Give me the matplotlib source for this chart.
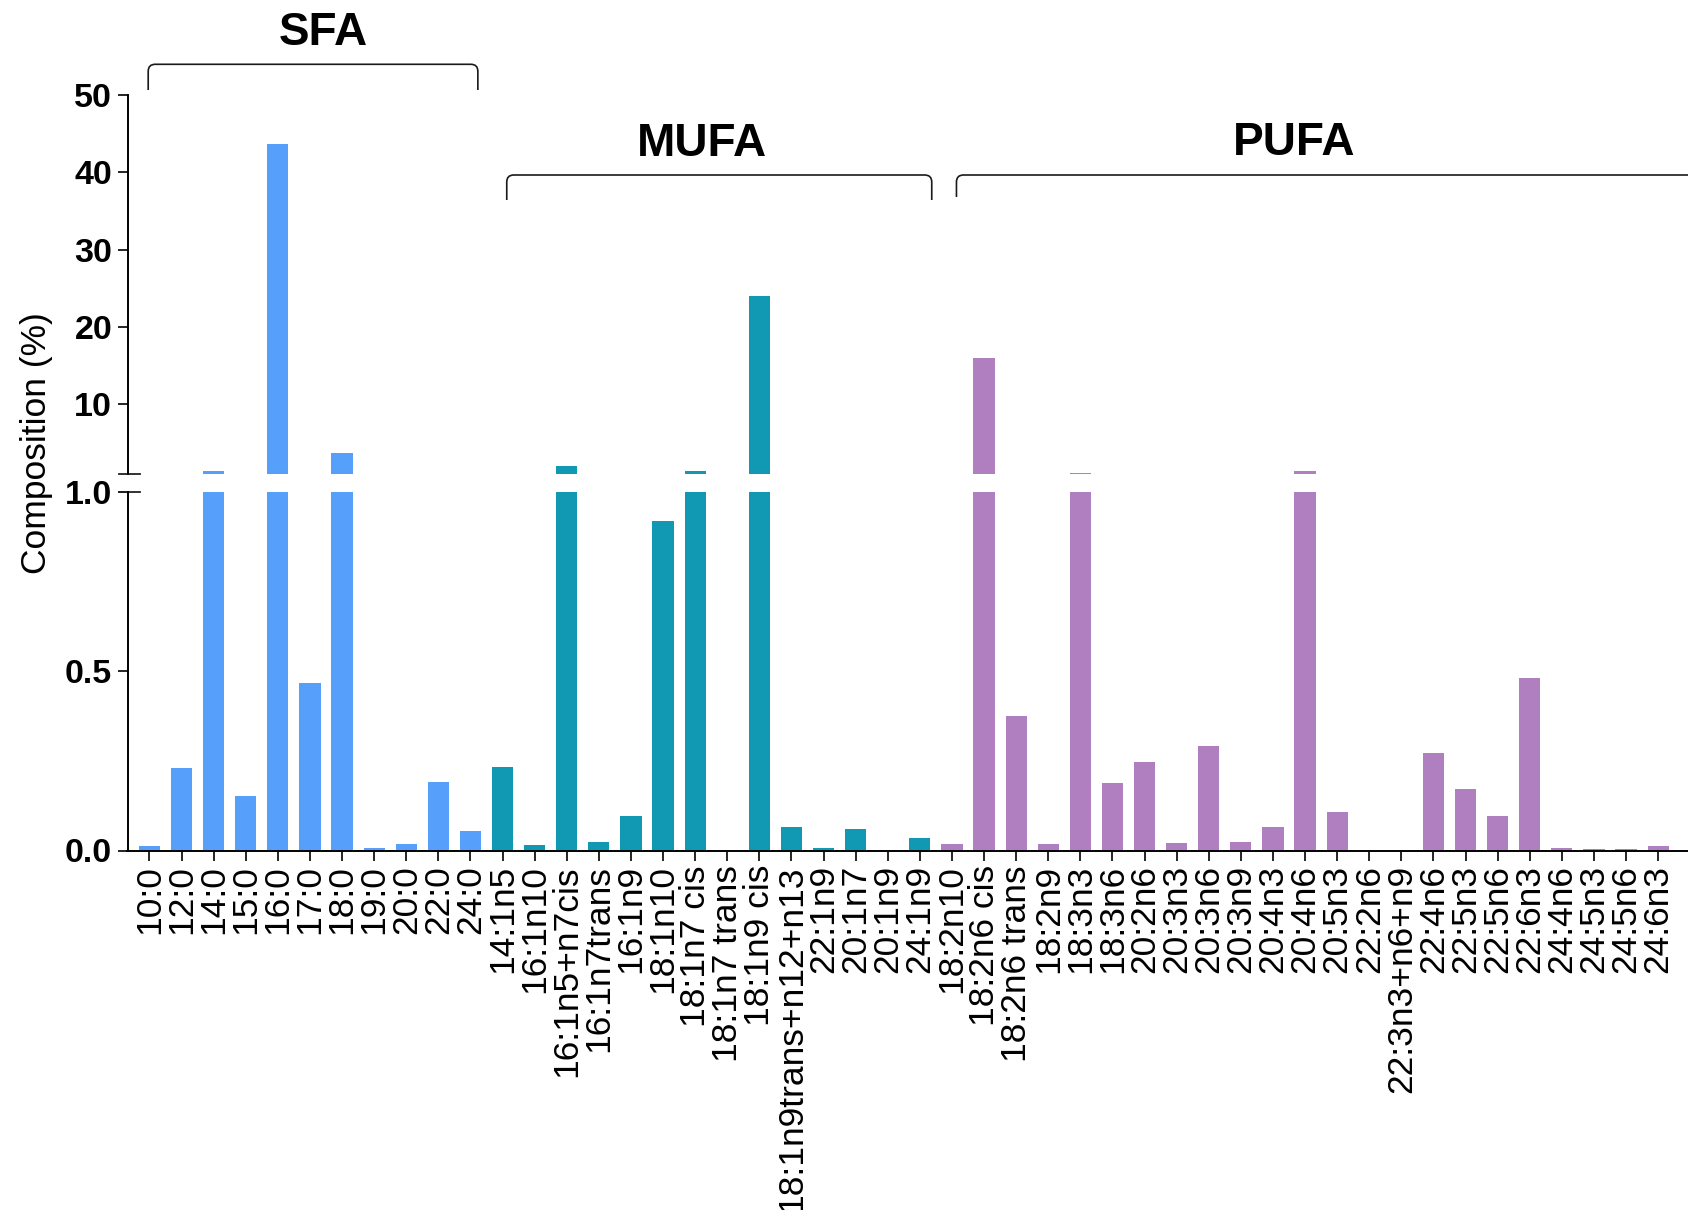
import matplotlib
matplotlib.use("Agg")
import matplotlib.pyplot as plt
from matplotlib.path import Path
from matplotlib.patches import PathPatch
from matplotlib.transforms import blended_transform_factory

plt.rcParams['font.family'] = ['Liberation Sans', 'DejaVu Sans']

# Fatty acid composition (%)
sfa_labels = ["10:0", "12:0", "14:0", "15:0", "16:0", "17:0", "18:0", "19:0",
              "20:0", "22:0", "24:0"]
sfa_values = [0.012, 0.230, 1.35, 0.153, 43.6, 0.466, 3.7, 0.006, 0.017,
              0.191, 0.055]

mufa_labels = ["14:1n5", "16:1n10", "16:1n5+n7cis", "16:1n7trans", "16:1n9",
               "18:1n10", "18:1n7 cis", "18:1n7 trans", "18:1n9 cis",
               "18:1n9trans+n12+n13", "22:1n9", "20:1n7", "20:1n9", "24:1n9"]
mufa_values = [0.233, 0.016, 2.0, 0.023, 0.095, 0.918, 1.45, 0.0, 24.0,
               0.065, 0.006, 0.060, 0.0, 0.034]

pufa_labels = ["18:2n10", "18:2n6 cis", "18:2n6 trans", "18:2n9", "18:3n3",
               "18:3n6", "20:2n6", "20:3n3", "20:3n6", "20:3n9", "20:4n3",
               "20:4n6", "20:5n3", "22:2n6", "22:3n3+n6+n9", "22:4n6",
               "22:5n3", "22:5n6", "22:6n3", "24:4n6", "24:5n3", "24:5n6",
               "24:6n3"]
pufa_values = [0.019, 16.0, 0.376, 0.018, 1.08, 0.189, 0.246, 0.022, 0.290,
               0.024, 0.065, 1.35, 0.107, 0.0, 0.0, 0.273, 0.171, 0.095,
               0.481, 0.007, 0.004, 0.004, 0.012]

group_names = ["SFA", "MUFA", "PUFA"]
group_colors = ["#569FFA", "#1199B4", "#B07FBF"]

labels = sfa_labels + mufa_labels + pufa_labels
values = sfa_values + mufa_values + pufa_values
colors = ([group_colors[0]] * len(sfa_labels) + [group_colors[1]] * len(mufa_labels)
          + [group_colors[2]] * len(pufa_labels))
x = list(range(len(labels)))

W, H = 1688, 1210
fig = plt.figure(figsize=(W / 100, H / 100), dpi=100)

x_left = 127.5 / W
lo_bottom, lo_top = 850.5, 491.7
hi_bottom, hi_top = 474.0, 94.7
ax_lo = fig.add_axes([x_left, 1 - lo_bottom / H, 1 - x_left, (lo_bottom - lo_top) / H])
ax_hi = fig.add_axes([x_left, 1 - hi_bottom / H, 1 - x_left, (hi_bottom - hi_top) / H])

xlim = (-0.685, 47.93)
for ax in (ax_lo, ax_hi):
    ax.bar(x, values, width=0.66, color=colors, linewidth=0)
    ax.set_xlim(*xlim)
    ax.spines['top'].set_visible(False)
    ax.spines['right'].set_visible(False)
    ax.spines['left'].set_linewidth(1.4)
    ax.spines['bottom'].set_linewidth(1.4)
    ax.tick_params(axis='y', direction='out', length=7, width=1.2, pad=4)

ytick_font = dict(fontweight='bold', fontsize=24.5)

ax_lo.set_ylim(0, 1.0)
ax_lo.set_yticks([0, 0.5, 1.0])
ax_lo.set_yticklabels(["0.0", "0.5", "1.0"], **ytick_font)
ax_lo.set_xticks(x)
ax_lo.set_xticklabels(labels, rotation=90, fontsize=25.5)
ax_lo.tick_params(axis='x', direction='out', length=7.5, width=1.2, pad=3)

ax_hi.set_ylim(1, 50)
ax_hi.set_yticks([10, 20, 30, 40, 50])
ax_hi.set_yticklabels(["10", "20", "30", "40", "50"], **ytick_font)
ax_hi.spines['bottom'].set_visible(False)
ax_hi.set_xticks([])

# Axis break marks crossing the spine
for ax in (ax_lo, ax_hi):
    tr = blended_transform_factory(fig.transFigure, ax.transData)
    ax.plot([(127.5 - 9) / W, (127.5 + 12) / W], [1, 1], color='#222222',
            lw=1.3, transform=tr, clip_on=False)

fig.text(37 / W, 1 - 443 / H, "Composition (%)", rotation=90, fontsize=25.5,
         ha='center', va='center')

# Group brackets with rounded corners
btr = blended_transform_factory(ax_hi.transData, fig.transFigure)


def bracket(x0, x1, y_top_px, y_end_px):
    yt = 1 - y_top_px / H
    yb = 1 - y_end_px / H
    ry = 7 / H
    rx = 0.22
    verts = [(x0, yb), (x0, yt - ry), (x0, yt), (x0 + rx, yt),
             (x1 - rx, yt), (x1, yt), (x1, yt - ry), (x1, yb)]
    codes = [Path.MOVETO, Path.LINETO, Path.CURVE3, Path.CURVE3,
             Path.LINETO, Path.CURVE3, Path.CURVE3, Path.LINETO]
    patch = PathPatch(Path(verts, codes), fill=False, edgecolor='#1a1a1a',
                      lw=1.2, transform=btr, clip_on=False)
    fig.add_artist(patch)


bracket(-0.04, 10.23, 64.3, 90)
bracket(11.13, 24.37, 175, 200)
bracket(25.14, 60, 175, 197)

ttr = blended_transform_factory(ax_hi.transData, fig.transFigure)
group_x = [5.4, 17.2, 35.65]
group_baseline_px = [45, 156, 155]
for name, gx, gy in zip(group_names, group_x, group_baseline_px):
    fig.text(gx, 1 - gy / H, name, transform=ttr, fontsize=33,
             fontweight='bold', ha='center', va='baseline')

fig.savefig("out.png", dpi=100)
